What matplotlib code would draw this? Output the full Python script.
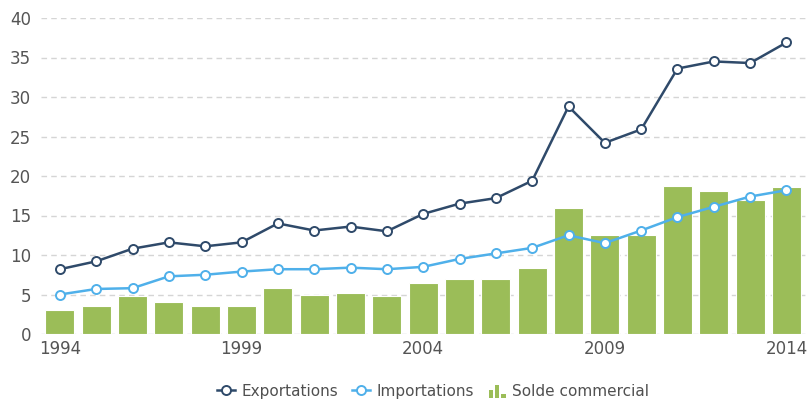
import numpy as np
import matplotlib.pyplot as plt
from matplotlib.legend_handler import HandlerBase
from matplotlib.lines import Line2D
from matplotlib.patches import Rectangle

years = list(range(1994, 2015))
exportations = [8.2, 9.2, 10.8, 11.6, 11.1, 11.6, 14.0, 13.1, 13.6, 13.0,
                15.2, 16.5, 17.2, 19.4, 28.8, 24.2, 25.9, 33.6, 34.5, 34.3, 36.9]
importations = [5.0, 5.7, 5.8, 7.3, 7.5, 7.9, 8.2, 8.2, 8.4, 8.2,
                8.5, 9.5, 10.2, 10.9, 12.5, 11.5, 13.1, 14.8, 16.1, 17.4, 18.2]
solde = [3.1, 3.6, 4.8, 4.1, 3.6, 3.6, 5.8, 5.0, 5.2, 4.8,
         6.4, 6.9, 6.9, 8.3, 16.0, 12.5, 12.5, 18.7, 18.1, 16.9, 18.6]
xtick_years = [1994, 1999, 2004, 2009, 2014]

c_exp = '#2f4a6a'
c_imp = '#4fb0ea'
c_bar = '#9bbd58'
grey = '#555555'


class BarIconHandler(HandlerBase):
    "Small three-bar icon for the legend"
    def create_artists(self, legend, orig, xd, yd, w, h, fs, trans):
        bw = 3.2
        out = []
        x0 = w * 0.5 - 5.5
        for i, frac in enumerate([0.75, 1.15, 0.35]):
            r = Rectangle((x0 + i * (bw + 1.2), -1.5), bw, h * frac,
                          facecolor=c_bar, edgecolor='none', transform=trans)
            out.append(r)
        return out


fig = plt.figure(figsize=(8.09, 4.0), dpi=100)
ax = fig.add_axes([41 / 809, 66 / 400, 768 / 809, 316 / 400])

x = np.arange(len(years))
ax.bar(x, solde, width=0.8, color=c_bar, edgecolor='white', linewidth=0.8, zorder=2)
ax.plot(x, importations, color=c_imp, lw=1.8, marker='o', ms=6.5, mfc='white',
        mec=c_imp, mew=1.4, zorder=3)
ax.plot(x, exportations, color=c_exp, lw=1.8, marker='o', ms=6.5, mfc='white',
        mec=c_exp, mew=1.4, zorder=4)

ax.set_xlim(-0.52, 20.62)
ax.set_ylim(0, 40)
ax.set_yticks(range(0, 41, 5))
ax.set_xticks([years.index(y) for y in xtick_years])
ax.set_xticklabels([str(y) for y in xtick_years])
ax.grid(axis='y', color='#d5d5d5', linestyle=(0, (4, 3)), linewidth=1, zorder=0)
ax.set_axisbelow(True)
for s in ax.spines.values():
    s.set_visible(False)
ax.tick_params(length=0, labelsize=12, labelcolor=grey)
ax.tick_params(axis='y', pad=7)
ax.tick_params(axis='x', pad=4)

h_exp = Line2D([], [], color=c_exp, lw=1.8, marker='o', ms=6.5, mfc='white', mec=c_exp, mew=1.4)
h_imp = Line2D([], [], color=c_imp, lw=1.8, marker='o', ms=6.5, mfc='white', mec=c_imp, mew=1.4)
h_bar = Rectangle((0, 0), 1, 1)
fig.legend([h_exp, h_imp, h_bar], ['Exportations', 'Importations', 'Solde commercial'],
           loc='center', bbox_to_anchor=(0.535, 0.022), ncol=3, frameon=False,
           fontsize=11, labelcolor='#505050', handlelength=1.2, handletextpad=0.4,
           columnspacing=0.9, handler_map={h_bar: BarIconHandler()})

fig.savefig('out.png', dpi=100)
